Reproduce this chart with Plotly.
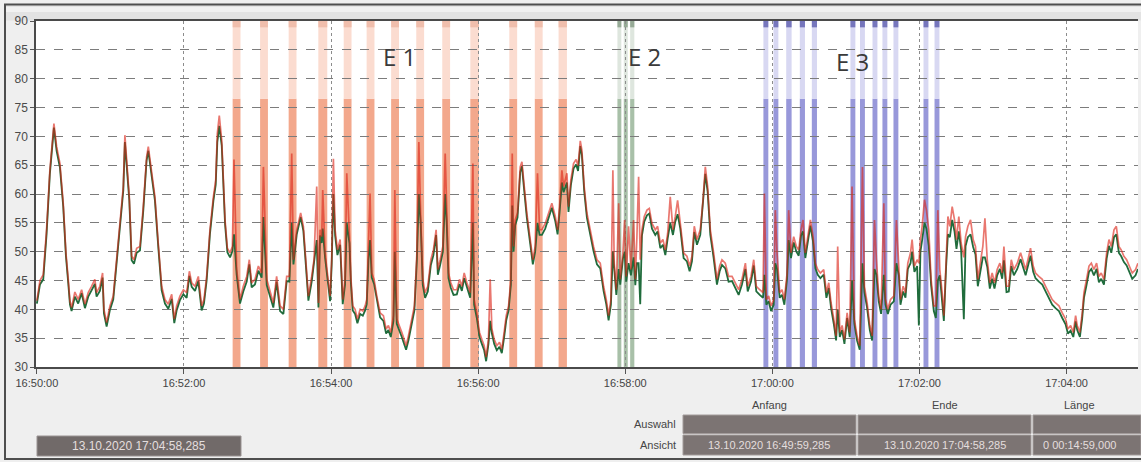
import plotly.graph_objects as go
from datetime import datetime, timedelta

# ---------------------------------------------------------------- data
T0 = datetime(2020, 10, 13, 16, 50, 0)
VIEW_START = datetime(2020, 10, 13, 16, 49, 59, 285000)
VIEW_END = datetime(2020, 10, 13, 17, 4, 58, 285000)

# seconds after 16:50:00
sec = [
    0, 2.5, 5.2, 7.9, 10.6, 13.9, 16.1, 18.8, 21.5, 23.7, 25.6, 27.0, 28.3, 31.0, 33.7, 36.5,
    39.2, 41.9, 44.6, 47.3, 48.7, 51.4, 53.6, 54.7, 56.9, 59.6, 62.3, 65.0, 67.8, 70.5, 71.8,
    73.2, 75.4, 77.3, 79.2, 81.4, 84.1, 86.8, 89.5, 90.9, 93.6, 96.3, 99.0, 101.8, 104.5, 107.2,
    110.0, 112.1, 114.0, 116.7, 119.5, 122.2, 124.4, 126.3, 129.0, 131.7, 134.4, 136.3, 138.5,
    141.2, 144.0, 145.9, 147.2, 148.8, 150.8, 152.1, 153.5, 155.4, 157.6, 159.5, 160.8, 163.0,
    165.7, 168.4, 171.2, 173.3, 175.2, 177.9, 180.7, 183.4, 184.8, 187.5, 190.2, 192.9, 195.6,
    198.4, 201.1, 203.8, 206.0, 207.9, 209.3, 212.0, 215.2,
    217.4, 218.8, 221.5, 224.2, 226.1, 228.3, 229.7, 231.0, 232.4, 233.2, 235.1, 237.0, 239.2,
    240.5, 241.9, 243.3, 245.2, 247.4, 249.5, 251.4, 252.8, 255.0, 256.1, 257.7, 259.6, 261.5,
    263.7, 265.9, 267.8, 269.1, 270.5, 271.8, 273.2, 275.1, 277.3, 280.0, 282.7, 284.9, 286.8,
    288.7, 290.9, 292.0, 293.6, 295.8, 297.7, 299.6, 301.2, 303.1, 305.9, 308.0, 310.0, 311.6,
    313.2, 314.8, 316.7, 318.9, 321.4, 323.5, 325.7, 327.1, 329.0, 331.2, 333.1, 334.4, 335.8,
    337.7, 339.9, 342.6, 344.8, 346.7, 348.6, 350.8, 353.5, 355.7, 356.7, 358.9, 361.1, 363.0,
    364.9, 366.5, 368.4, 369.8, 371.2, 373.1, 375.2, 377.4, 379.3, 381.2, 382.9, 384.8, 386.7,
    387.8, 388.9, 390.2, 392.1, 394.3, 395.7, 397.6, 399.7, 402.5, 404.6, 406.5, 408.4, 410.1,
    412.0, 414.7, 417.4, 420.1, 422.9, 424.8, 426.4, 428.3, 429.7, 432.4, 433.7, 435.6, 437.8,
    439.9, 441.5, 443.3, 444.6,
    446.5, 448.7, 451.4, 454.1, 456.9, 459.6, 462.3, 464.5, 466.4, 468.3, 469.9, 471.0, 472.7,
    474.6, 475.9, 478.1, 479.5, 480.8, 482.7, 484.6, 486.8, 488.2, 489.5, 490.9, 492.2, 493.6,
    495.5, 497.7, 499.6, 501.8, 504.5, 506.4, 508.6, 510.7, 512.7, 514.6, 516.7, 518.9, 520.8,
    522.7, 524.9, 527.6, 530.3, 532.5, 534.4, 536.3, 538.5, 541.2, 543.4, 545.3, 547.2, 549.4,
    552.1, 554.8, 557.0, 558.9, 561.6, 564.3, 567.1, 569.8, 572.5, 575.2, 578.0, 579.9, 582.6,
    584.8, 586.9, 589.7, 592.4, 593.5, 595.1, 597.0, 598.9, 601.1, 602.4, 603.8, 606.0, 607.9,
    609.8, 612.0, 613.3, 615.2, 617.4, 619.6, 621.5, 623.4, 625.0, 626.9, 628.8, 631.0, 633.2,
    635.1, 637.0, 639.2, 641.9, 644.1, 646.0, 647.9, 650.1, 652.0, 653.3, 655.0, 656.9, 658.8,
    661.0, 663.1, 665.0, 666.9, 669.1, 671.3,
    673.5, 675.1, 677.3, 679.5, 681.4, 683.3, 684.9, 686.8, 688.7, 690.9, 692.3, 694.2, 696.4,
    699.1, 701.2, 703.2, 704.5, 706.7, 708.6, 710.5, 712.7, 714.0, 715.9, 718.1, 719.5, 720.8,
    722.2, 724.1, 725.7, 727.6, 729.5, 731.7, 733.4, 735.0, 736.6, 738.5, 739.9, 741.8, 743.2,
    744.8, 746.7, 748.6, 750.2, 752.1, 754.0, 756.2, 757.6, 759.5, 761.7, 763.8, 765.7, 767.6,
    769.8, 771.7, 773.4, 775.3, 777.4, 779.3, 781.2, 783.4, 785.6, 787.5, 788.9, 791.0, 792.9,
    794.9, 797.0, 799.8, 802.5, 804.7, 806.6, 808.5, 810.6, 812.8, 814.7, 817.4, 820.2, 822.9,
    825.6, 828.3, 831.0, 833.8, 836.5, 839.2, 841.1, 843.3, 845.5, 847.4, 848.7, 850.9, 852.8,
    854.2, 856.3, 858.3, 860.2, 862.3, 864.5, 866.4, 868.3, 870.5, 872.7, 874.6, 876.5, 878.7,
    880.6, 882.7, 884.6, 886.8, 889.0, 890.9, 893.6, 896.3, 898.2,
]

red = [
    41.5, 45.0, 46.0, 53.8, 64.1, 72.2, 68.2, 65.3, 58.4, 49.8, 45.2, 41.4, 40.3, 43.0, 41.7, 43.4,
    40.9, 42.9, 44.0, 45.2, 42.9, 44.0, 46.3, 40.0, 37.7, 40.6, 42.3, 48.6, 53.8, 61.3, 70.2,
    65.3, 59.5, 49.2, 48.6, 50.6, 50.9, 57.8, 66.4, 68.2, 64.1, 59.5, 51.5, 44.0, 41.7, 40.9,
    42.6, 38.3, 40.6, 42.3, 43.4, 42.9, 46.6, 44.6, 44.0, 45.7, 40.6, 41.7, 45.7,
    53.8, 59.5, 62.4, 70.5, 73.6, 69.3, 61.3, 55.5, 50.6, 49.8, 50.9, 66.0, 46.9,
    41.7, 44.0, 45.7, 48.6, 44.6, 45.2, 47.5, 46.3, 64.7, 45.2, 42.9, 41.1, 45.7,
    40.6, 40.0, 45.7, 45.7, 67.0, 48.6, 53.8, 56.7,
    54.4, 50.3, 42.3, 45.7, 48.6, 61.3, 41.1, 53.8, 52.6, 60.7, 49.8, 46.3, 42.3,
    48.6, 66.1, 53.8, 50.3, 52.1, 41.7, 45.2, 63.6, 52.6, 45.7, 40.6, 40.0, 38.3,
    40.0, 39.7, 40.6, 41.7, 49.8, 60.1, 46.3, 45.2, 42.3, 39.4, 38.9, 36.6, 37.2,
    36.0, 38.9, 60.7, 38.3, 37.2, 36.0, 34.8, 33.7, 35.4, 38.3, 40.6, 49.8, 69.0,
    55.5, 45.2, 42.9, 44.0, 48.6, 50.3, 53.8, 46.9, 48.6, 50.9, 67.0, 55.5, 46.3,
    44.6, 43.4, 43.4, 45.2, 44.0, 46.3, 44.6, 42.9, 65.3, 41.7, 39.4, 36.0, 34.8,
    33.7, 31.7, 34.8, 45.2, 36.6, 34.8, 33.7, 34.3, 33.1, 36.0, 38.9, 40.6, 45.2,
    67.0, 50.9, 55.5, 56.7, 64.7, 65.6, 61.3, 56.7, 52.1, 48.6, 50.9, 63.6, 53.8,
    53.8, 54.9, 56.7, 58.4, 56.1, 53.8, 57.8, 64.1, 61.3, 63.6, 57.8, 62.4, 65.3,
    66.0, 64.9, 69.2, 67.6,
    61.3, 56.7, 53.8, 50.9, 48.6, 48.0, 44.0, 41.7, 38.9, 41.7, 64.1, 48.0, 43.4,
    58.4, 45.2, 49.8, 55.5, 45.7, 54.4, 46.9, 55.5, 45.2, 52.6, 63.0, 48.6, 53.8,
    56.1, 57.2, 57.5, 54.9, 53.8, 54.4, 51.5, 52.1, 50.3, 53.2, 59.5, 53.8, 56.1,
    58.9, 54.9, 49.8, 49.2, 47.5, 49.2, 54.4, 52.1, 53.8, 58.9, 64.7, 61.3, 53.8,
    49.8, 45.2, 47.5, 48.6, 48.0, 45.7, 45.7, 44.6, 43.4, 45.2, 48.0, 44.0, 45.7,
    48.6, 44.0, 43.4, 42.9, 60.1, 41.7, 42.3, 40.6, 41.7, 57.2, 49.8, 42.9, 43.4,
    41.7, 46.3, 57.2, 49.8, 52.6, 50.9, 50.3, 53.8, 55.5, 49.8, 52.1, 55.5, 52.6,
    48.0, 46.9, 46.3, 46.9, 42.9, 44.6, 41.1, 38.3, 35.4, 50.9, 36.0, 37.2, 34.8,
    39.4, 36.0, 61.3, 38.3, 35.4, 33.7,
    64.7, 44.0, 41.1, 37.2, 35.4, 55.5, 48.6, 42.3, 40.0, 58.4, 41.7, 40.0, 41.7,
    42.3, 55.5, 46.9, 41.7, 44.0, 42.9, 48.0, 49.8, 52.1, 47.5, 48.6, 48.0, 52.1,
    54.4, 59.0, 57.2, 53.8, 45.2, 40.6, 40.6, 57.2, 46.9, 42.9, 38.9, 48.6, 56.1,
    54.4, 57.8, 55.5, 52.1, 56.1, 51.5, 49.0, 52.6, 54.4, 55.5, 52.1, 50.9, 45.2,
    48.0, 50.9, 55.8, 48.6, 44.6, 46.3, 44.6, 46.9, 48.0, 46.3, 50.9, 44.0, 44.0,
    48.6, 46.9, 48.0, 49.8, 48.0, 46.9, 48.6, 50.6, 47.5, 46.3, 45.7, 45.2, 44.0,
    42.9, 41.7, 41.1, 40.6, 39.4, 38.3, 36.6, 37.2, 36.0, 38.9, 37.2, 36.0, 39.4,
    42.9, 45.2, 47.5, 48.0, 46.9, 48.0, 45.7, 46.3, 45.2, 49.8, 52.1, 50.9, 53.8,
    54.4, 50.9, 50.3, 49.2, 48.6, 47.5, 46.3, 46.9, 48.0,
]

green = [
    41.0, 44.3, 45.2, 53.0, 63.5, 71.5, 67.5, 64.6, 57.8, 49.2, 44.5, 40.8, 39.7, 42.2, 41.0, 42.8,
    40.2, 42.2, 43.3, 44.4, 42.2, 43.2, 45.5, 39.3, 37.0, 39.9, 41.7, 48.0, 53.2, 60.6, 69.0,
    64.7, 58.9, 48.5, 47.9, 49.8, 50.2, 57.1, 65.8, 67.5, 63.4, 58.9, 50.9, 43.3, 41.0, 40.1,
    41.8, 37.6, 39.8, 41.6, 42.6, 42.0, 45.8, 43.9, 43.2, 44.9, 39.8, 41.0, 45.0,
    53.1, 58.8, 61.6, 69.0, 71.8, 68.4, 60.6, 54.8, 49.9, 49.0, 50.1, 53.0, 46.0,
    41.0, 43.1, 44.8, 47.8, 43.8, 44.3, 46.7, 45.5, 56.0, 44.2, 42.0, 40.3, 44.8,
    39.7, 39.2, 44.9, 44.8, 55.0, 47.8, 53.0, 56.0,
    53.6, 49.5, 41.5, 44.8, 47.8, 52.0, 40.3, 52.8, 51.5, 54.0, 49.0, 45.5, 41.4,
    47.7, 60.0, 52.8, 49.4, 51.2, 40.9, 44.3, 55.0, 51.5, 44.8, 39.8, 39.2, 37.6,
    39.2, 38.9, 39.8, 40.9, 48.5, 52.0, 45.5, 44.4, 41.5, 38.6, 38.0, 35.8, 36.4,
    35.2, 38.0, 50.0, 37.5, 36.4, 35.2, 34.0, 33.0, 34.6, 37.5, 39.8, 48.6, 60.0,
    54.5, 44.3, 42.0, 43.1, 47.7, 49.4, 52.9, 46.0, 47.7, 50.0, 60.0, 54.6, 45.4,
    43.7, 42.5, 42.6, 44.4, 43.2, 45.4, 43.8, 42.0, 55.0, 40.8, 38.5, 35.2, 34.0,
    32.9, 31.0, 34.0, 38.0, 35.8, 34.0, 32.9, 33.5, 32.4, 35.2, 38.1, 39.8, 44.3,
    58.0, 50.0, 54.6, 55.9, 63.8, 64.8, 60.5, 55.9, 51.3, 47.8, 50.0, 55.0, 52.9,
    52.9, 54.0, 55.9, 57.6, 55.3, 53.0, 56.8, 62.0, 60.3, 62.0, 56.9, 61.5, 64.4,
    65.1, 64.0, 68.3, 66.8,
    60.5, 55.9, 53.0, 50.1, 47.8, 47.1, 43.2, 40.9, 38.1, 40.8, 50.0, 47.0, 42.5,
    47.0, 44.3, 48.8, 50.0, 44.8, 48.0, 45.9, 49.0, 44.2, 48.0, 48.0, 40.9, 52.8,
    55.2, 56.3, 56.6, 54.0, 52.9, 53.5, 50.6, 51.2, 49.4, 52.3, 55.0, 52.9, 55.2,
    56.5, 54.0, 48.9, 48.3, 46.6, 48.3, 53.4, 51.2, 52.9, 58.0, 63.5, 60.4, 52.9,
    48.9, 44.3, 46.6, 47.7, 47.1, 44.8, 44.9, 43.7, 42.5, 44.3, 47.0, 43.1, 44.8,
    47.6, 43.1, 42.5, 42.0, 46.0, 40.8, 41.4, 39.7, 40.8, 48.0, 47.0, 42.0, 42.5,
    40.8, 45.3, 52.0, 48.9, 51.6, 50.0, 49.3, 52.8, 53.5, 48.9, 51.2, 54.5, 51.7,
    47.1, 46.0, 45.4, 46.0, 42.0, 43.7, 40.2, 37.5, 34.6, 40.0, 35.2, 36.4, 34.0,
    38.5, 35.2, 45.0, 37.5, 34.6, 33.0,
    48.0, 43.0, 40.2, 36.4, 34.6, 47.0, 46.0, 41.4, 39.2, 46.0, 40.8, 39.2, 40.8,
    41.4, 48.0, 45.9, 40.8, 43.1, 42.0, 47.0, 48.0, 50.0, 46.5, 47.5, 37.2, 50.0,
    52.0, 55.0, 54.0, 51.0, 44.2, 39.7, 38.5, 45.0, 45.9, 42.0, 38.0, 47.6, 53.0,
    52.5, 55.5, 53.5, 50.5, 53.5, 50.3, 38.3, 51.0, 52.5, 53.0, 50.8, 49.5, 44.0,
    46.8, 49.0, 49.0, 47.4, 43.6, 45.3, 43.6, 45.9, 47.0, 45.3, 48.5, 43.0, 43.1,
    47.5, 45.9, 47.0, 48.7, 47.0, 45.9, 47.5, 49.3, 46.5, 45.4, 44.8, 44.3, 43.1,
    42.0, 40.8, 40.2, 39.7, 38.5, 37.4, 35.8, 36.3, 35.2, 37.9, 36.4, 35.2, 38.5,
    42.0, 44.2, 46.5, 47.0, 45.9, 47.0, 44.7, 45.3, 44.3, 48.8, 51.0, 49.8, 52.5,
    53.0, 49.8, 49.2, 48.2, 47.6, 46.5, 45.3, 45.9, 47.0,
]

# event windows, seconds after 16:50:00
e1_start = [159.7, 182.1, 205.4, 229.6, 250.3, 269.0, 289.0, 309.5, 330.7, 353.6, 385.4, 406.2, 425.6]
e1_end = [166.1, 188.5, 211.8, 236.9, 256.7, 275.4, 295.4, 315.9, 337.1, 360.6, 391.8, 412.6, 432.4]
e2_start = [473.6, 478.8, 484.0]
e2_end = [476.8, 482.0, 487.4]
e3_start = [592.7, 600.9, 611.3, 622.4, 632.2, 663.7, 671.5, 681.7, 689.8, 698.8, 723.3, 732.3]
e3_end = [596.7, 604.9, 615.7, 626.6, 636.4, 667.7, 675.5, 685.7, 693.8, 702.8, 727.3, 736.3]

event_labels = ["E 1", "E 2", "E 3"]
event_label_sec = [296, 496, 665]
event_label_val = [83.8, 83.8, 83.0]

y_ticks = [30, 35, 40, 45, 50, 55, 60, 65, 70, 75, 80, 85, 90]
x_tick_minutes = [0, 2, 4, 6, 8, 10, 12, 14]

table_cols = ["Anfang", "Ende", "Länge"]
table_rows = ["Auswahl", "Ansicht"]
ansicht_cells = ["13.10.2020 16:49:59,285", "13.10.2020 17:04:58,285", "0 00:14:59,000"]
cursor_text = "13.10.2020 17:04:58,285"

BAND_SPLIT = 76.5


def ts(s):
    return (T0 + timedelta(seconds=s)).strftime("%Y-%m-%d %H:%M:%S.%f")


times = [ts(s) for s in sec]

# ---------------------------------------------------------------- geometry
W, H = 1141, 462
L, R, TOP, B = 36, 3, 21, 95
PW = W - L - R
PH = H - TOP - B


def pxx(x):
    return (x - L) / PW


def pxy(y):
    return (H - B - y) / PH


fig = go.Figure()

fig.add_trace(go.Scatter(x=times, y=green, mode="lines",
                         line=dict(color="rgb(32,108,60)", width=1.8), showlegend=False))
fig.add_trace(go.Scatter(x=times, y=red, mode="lines",
                         line=dict(color="rgba(220,36,22,0.62)", width=1.7), showlegend=False))

shapes = []


def band(s0, s1, low_fill, high_fill, cap=None):
    shapes.append(dict(type="rect", xref="x", yref="y", x0=ts(s0), x1=ts(s1), y0=30, y1=BAND_SPLIT,
                       fillcolor=low_fill, line=dict(width=0), layer="below"))
    shapes.append(dict(type="rect", xref="x", yref="y", x0=ts(s0), x1=ts(s1), y0=BAND_SPLIT, y1=90,
                       fillcolor=high_fill, line=dict(width=0), layer="below"))
    if cap is not None:
        shapes.append(dict(type="rect", xref="x", yref="y", x0=ts(s0), x1=ts(s1), y0=88.9, y1=90,
                           fillcolor=cap, line=dict(width=0), layer="below"))


for a, b in zip(e1_start, e1_end):
    band(a, b, "rgb(243,168,140)", "rgb(251,220,208)", cap="rgb(240,190,172)")
for a, b in zip(e2_start, e2_end):
    band(a, b, "rgb(168,192,168)", "rgb(222,230,222)", cap="rgb(150,170,150)")
for a, b in zip(e3_start, e3_end):
    band(a, b, "rgb(152,152,218)", "rgb(216,216,242)", cap="rgb(118,118,188)")

# window frame and header strip
shapes += [
    dict(type="rect", xref="paper", yref="paper", x0=pxx(5), x1=pxx(1141), y0=pxy(20.5), y1=pxy(5),
         fillcolor="#e3e3e3", line=dict(width=0), layer="below"),
    dict(type="rect", xref="paper", yref="paper", x0=pxx(5), x1=pxx(1141), y0=pxy(12), y1=pxy(7),
         fillcolor="#f1f1f1", line=dict(width=0), layer="below"),
    dict(type="line", xref="paper", yref="paper", x0=pxx(4), x1=pxx(1141), y0=pxy(4.5), y1=pxy(4.5),
         line=dict(color="#4e4e4e", width=2)),
    dict(type="line", xref="paper", yref="paper", x0=pxx(5), x1=pxx(5), y0=pxy(4), y1=pxy(459),
         line=dict(color="#4e4e4e", width=2)),
    dict(type="line", xref="paper", yref="paper", x0=pxx(4), x1=pxx(1141), y0=pxy(459), y1=pxy(459),
         line=dict(color="#4e4e4e", width=2)),
]

# cursor time box
shapes.append(dict(type="rect", xref="paper", yref="paper", x0=pxx(37), x1=pxx(241), y0=pxy(456),
                   y1=pxy(436), fillcolor="#716a69", line=dict(color="#9a9393", width=1)))

# selection / view table
col_edges = [(683, 856), (858, 1031), (1033, 1141)]
row_edges = [(415, 433.5), (435, 455)]
for (y0, y1) in row_edges:
    for (x0, x1) in col_edges:
        shapes.append(dict(type="rect", xref="paper", yref="paper", x0=pxx(x0), x1=pxx(x1),
                           y0=pxy(y1), y1=pxy(y0), fillcolor="#7c7473",
                           line=dict(color="#a29b9a", width=1)))

annotations = []
for lab, s, v in zip(event_labels, event_label_sec, event_label_val):
    annotations.append(dict(x=ts(s), y=v, xref="x", yref="y", text=lab, showarrow=False,
                            xanchor="center", yanchor="middle",
                            font=dict(family="Open Sans", size=24, color="#3a3a3a")))

annotations.append(dict(x=pxx(139), y=pxy(446), xref="paper", yref="paper", text=cursor_text,
                        showarrow=False, xanchor="center", yanchor="middle",
                        font=dict(family="Liberation Sans", size=12, color="#e4dede")))

for name, (x0, x1) in zip(table_cols, col_edges):
    annotations.append(dict(x=pxx((x0 + x1) / 2 - (8 if x1 == 1141 else 0)), y=pxy(405),
                            xref="paper", yref="paper", text=name, showarrow=False,
                            xanchor="center", yanchor="middle",
                            font=dict(family="Liberation Sans", size=11, color="#454545")))
for name, (y0, y1) in zip(table_rows, row_edges):
    annotations.append(dict(x=pxx(678), y=pxy((y0 + y1) / 2), xref="paper", yref="paper", text=name,
                            showarrow=False, xanchor="right", yanchor="middle",
                            font=dict(family="Liberation Sans", size=11, color="#454545")))
for txt, (x0, x1) in zip(ansicht_cells, col_edges):
    annotations.append(dict(x=pxx((x0 + x1) / 2 - (8 if x1 == 1141 else 0)), y=pxy(445),
                            xref="paper", yref="paper", text=txt, showarrow=False,
                            xanchor="center", yanchor="middle",
                            font=dict(family="Liberation Sans", size=11, color="#e4dede")))

xtick_vals = [ts(m * 60) for m in x_tick_minutes]
xtick_text = [(T0 + timedelta(minutes=m)).strftime("%H:%M:%S") for m in x_tick_minutes]

fig.update_layout(
    width=W, height=H,
    margin=dict(l=L, r=R, t=TOP, b=B, pad=0),
    paper_bgcolor="#efefef",
    plot_bgcolor="white",
    shapes=shapes,
    annotations=annotations,
    xaxis=dict(
        type="date",
        range=[VIEW_START.strftime("%Y-%m-%d %H:%M:%S.%f"), VIEW_END.strftime("%Y-%m-%d %H:%M:%S.%f")],
        tickvals=xtick_vals, ticktext=xtick_text,
        ticks="outside", ticklen=5, tickcolor="#555",
        tickfont=dict(family="Liberation Sans", size=11, color="#444"),
        showgrid=True, gridcolor="#8c8c8c", griddash="dot", gridwidth=1,
        showline=True, linecolor="#4a4a4a", linewidth=1.5, mirror=True,
        zeroline=False,
    ),
    yaxis=dict(
        range=[30, 90], tickvals=y_ticks,
        ticks="outside", ticklen=4, tickcolor="#555",
        tickfont=dict(family="Liberation Sans", size=12, color="#4a4a4a"),
        showgrid=True, gridcolor="#7c7c7c", griddash="dash", gridwidth=1,
        showline=True, linecolor="#4a4a4a", linewidth=1.5,
        zeroline=False,
    ),
)

fig.write_html("out.html")
